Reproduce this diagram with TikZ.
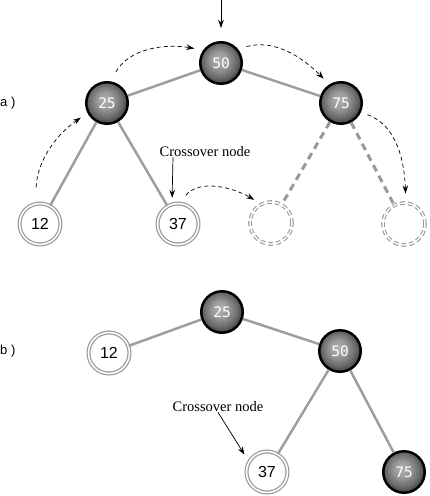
\documentclass[tikz,border=0pt]{standalone}
\usepackage{fontspec}
\setmainfont{Liberation Serif}
\setsansfont{Liberation Sans}
\setmonofont{DejaVu Sans Mono}
\usetikzlibrary{arrows.meta}
\pgfdeclareradialshading{knob}{\pgfpoint{-3bp}{4bp}}{color(0bp)=(black!30); color(10bp)=(black!40); color(20bp)=(black!58); color(25bp)=(black!70); color(50bp)=(black!70)}

\begin{document}
\begin{tikzpicture}[x=1pt,y=1pt]
\tikzstyle{every node}+=[inner sep=0pt]
\tikzstyle{full}=[circle, minimum size=41.5pt, draw=black, line width=2.5pt, shading=knob, text=white, font=\ttfamily\fontsize{14.5}{15}\selectfont]
\tikzstyle{leaf}=[circle, minimum size=41pt, draw=black!40, line width=1.2pt, double=white, double distance=1.6pt, fill=white, font=\sffamily\fontsize{16}{16}\selectfont]
\tikzstyle{ghost}=[circle, minimum size=42pt, draw=black!40, line width=1.1pt, double=white, double distance=1.4pt, dash pattern=on 5pt off 3pt]
\tikzstyle{branch}=[black!38, line width=2.5pt]
\tikzstyle{gone}=[black!40, line width=3pt, dash pattern=on 7pt off 5pt]
\tikzstyle{hop}=[black, line width=0.7pt, dash pattern=on 4pt off 3pt, -{Stealth[length=8pt,width=5.5pt]}]
\tikzstyle{pointer}=[black, line width=0.7pt, -{Stealth[length=8pt,width=5.5pt]}]
\tikzstyle{note}=[font=\fontsize{14.5}{15}\selectfont]
\tikzstyle{part}=[font=\sffamily\fontsize{13}{13}\selectfont, anchor=west]
\useasboundingbox (0,0) rectangle (430,-496);
\node[part] (parta) at (0,-103) {a )};
\node[full] (a50) at (221,-63) {50};
\node[full] (a25) at (107,-103) {25};
\node[full] (a75) at (341,-103) {75};
\node[leaf] (a12) at (40,-224) {12};
\node[leaf] (a37) at (178,-224) {37};
\node[ghost] (g1) at (271,-223) {};
\node[ghost] (g2) at (404,-224) {};
\coordinate (entry) at (221,0);
\draw[branch] (a50) -- (a25);
\draw[branch] (a50) -- (a75);
\draw[branch] (a25) -- (a12);
\draw[branch] (a25) -- (a37);
\draw[gone] (a75) -- (g1);
\draw[gone] (a75) -- (g2);
\draw[pointer] (entry) -- (a50) [shorten >=13pt];
\draw[hop, shorten <=16pt, shorten >=8pt] (a12.102) to[out=88, in=215] (a25.207);
\draw[hop, shorten <=11pt, shorten >=9pt] (a25.81) to[out=60, in=170] (a50.144);
\draw[hop, shorten <=9pt, shorten >=8pt] (a50.40) to[out=15, in=135] (a75.122);
\draw[hop, shorten <=10pt, shorten >=8pt] (a37.86) to[out=50, in=150] (g1.117);
\draw[hop, shorten <=7pt, shorten >=9pt] (a75.-25) to[out=-20, in=92] (g2.85);
\node[note] (cross1) at (205,-152) {Crossover node};
\draw[pointer, shorten >=5pt] ([xshift=-32pt]cross1.south) -- ([xshift=-6pt]a37.north);
\node[part] (partb) at (0,-351) {b )};
\node[full] (b25) at (222,-312) {25};
\node[leaf] (b12) at (109,-353) {12};
\node[full] (b50) at (340,-351) {50};
\node[leaf] (b37) at (267,-472) {37};
\node[full] (b75) at (404,-472) {75};
\draw[branch] (b25) -- (b12);
\draw[branch] (b25) -- (b50);
\draw[branch] (b50) -- (b37);
\draw[branch] (b50) -- (b75);
\node[note] (cross2) at (218,-407) {Crossover node};
\draw[pointer, shorten >=8pt] (cross2.south) -- (b37.150);
\end{tikzpicture}
\end{document}
